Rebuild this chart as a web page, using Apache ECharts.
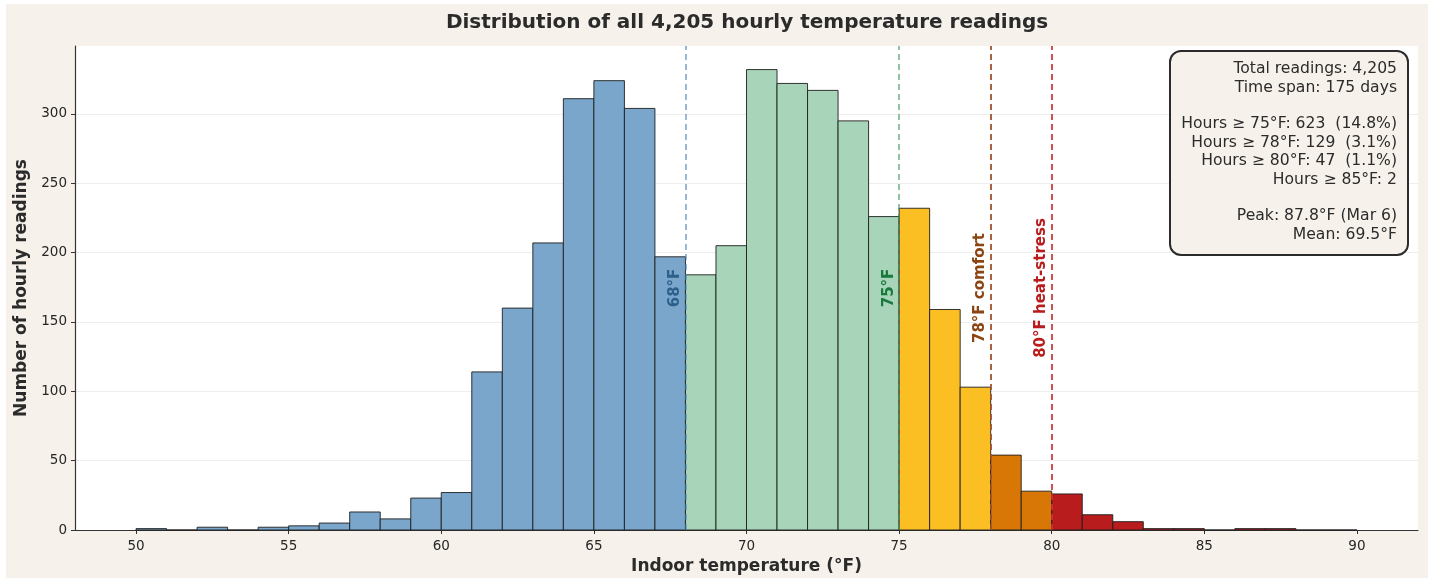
<!DOCTYPE html>
<html>
<head>
<meta charset="utf-8">
<title>Indoor temperature histogram</title>
<script src="https://cdn.jsdelivr.net/npm/echarts@6/dist/echarts.min.js"></script>
<style>
  html, body { margin: 0; padding: 0; background: #ffffff; }
  #chart { position: absolute; left: 6px; top: 4px; width: 1422px; height: 574px; }
</style>
</head>
<body>
<div id="chart"></div>
<script>
// 1°F bins, left edges
var binStarts = [50, 51, 52, 53, 54, 55, 56, 57, 58, 59,
                 60, 61, 62, 63, 64, 65, 66, 67, 68, 69,
                 70, 71, 72, 73, 74, 75, 76, 77, 78, 79,
                 80, 81, 82, 83, 84, 85, 86, 87, 88, 89];
var counts = [1, 0, 2, 0, 2, 3, 5, 13, 8, 23,
              27, 114, 160, 207, 311, 324, 304, 197, 184, 205,
              332, 322, 317, 295, 226, 232, 159, 103, 54, 28,
              26, 11, 6, 1, 1, 0, 1, 1, 0, 0];
var xTicks = [50, 55, 60, 65, 70, 75, 80, 85, 90];
var yTicks = [0, 50, 100, 150, 200, 250, 300];
var thresholds = [68, 75, 78, 80];
var thresholdLabels = ['68°F', '75°F', '78°F comfort', '80°F heat-stress'];
var statsLines = [
  'Total readings: 4,205',
  'Time span: 175 days',
  '',
  'Hours ≥ 75°F: 623  (14.8%)',
  'Hours ≥ 78°F: 129  (3.1%)',
  'Hours ≥ 80°F: 47  (1.1%)',
  'Hours ≥ 85°F: 2',
  '',
  'Peak: 87.8°F (Mar 6)',
  'Mean: 69.5°F'
];

var FONT = '"DejaVu Sans", sans-serif';

// bin colour by temperature band
function binColor(x) {
  if (x < 68) return '#7aa6cc';
  if (x < 75) return '#a8d5b9';
  if (x < 78) return '#fbbf24';
  if (x < 80) return '#d97706';
  return '#b91c1c';
}

var lineStyles = [
  { color: 'rgba(70,130,180,0.75)', width: 1.5, labelColor: '#2c5f8a' },
  { color: 'rgba(60,150,95,0.75)', width: 1.5, labelColor: '#1a7a3e' },
  { color: 'rgba(160,82,45,0.9)', width: 2, labelColor: '#8b4513' },
  { color: 'rgba(200,50,50,0.85)', width: 2, labelColor: '#b91c1c' }
];

var chart = echarts.init(document.getElementById('chart'));

chart.setOption({
  backgroundColor: '#f6f2eb',
  animation: false,
  textStyle: { fontFamily: FONT },
  title: {
    text: 'Distribution of all 4,205 hourly temperature readings',
    left: 736,
    top: 4,
    textAlign: 'center',
    textStyle: { fontFamily: FONT, fontSize: 20, fontWeight: 'bold', color: '#2b2b2b' }
  },
  grid: {
    left: 69, right: 10, top: 42, bottom: 48,
    outerBoundsMode: 'none',
    show: true, backgroundColor: '#ffffff', borderWidth: 0
  },
  xAxis: {
    type: 'value',
    min: 48,
    max: 92,
    name: 'Indoor temperature (°F)',
    nameLocation: 'middle',
    nameGap: 27,
    nameTextStyle: { fontFamily: FONT, fontSize: 17, fontWeight: 'bold', color: '#2b2b2b' },
    axisLine: { lineStyle: { color: '#333', width: 1.2 } },
    axisTick: { show: true, length: 4, customValues: xTicks, lineStyle: { color: '#333' } },
    axisLabel: { customValues: xTicks, fontFamily: FONT, fontSize: 13.5, color: '#262626', margin: 9 },
    splitLine: { show: false }
  },
  yAxis: {
    type: 'value',
    min: 0,
    max: 349,
    interval: 50,
    name: 'Number of hourly readings',
    nameLocation: 'middle',
    nameGap: 38,
    nameTextStyle: { fontFamily: FONT, fontSize: 17, fontWeight: 'bold', color: '#2b2b2b' },
    axisLine: { show: true, lineStyle: { color: '#333', width: 1.2 } },
    axisTick: { show: true, length: 4, customValues: yTicks, lineStyle: { color: '#333' } },
    axisLabel: { customValues: yTicks, fontFamily: FONT, fontSize: 13.5, color: '#262626', margin: 8 },
    splitLine: { show: true, lineStyle: { color: '#eeeeee', width: 1 } }
  },
  series: [{
    type: 'custom',
    data: binStarts.map(function (b, i) { return [b, counts[i]]; }),
    encode: { x: 0, y: 1 },
    renderItem: function (params, api) {
      var x0 = api.value(0);
      var c = api.value(1);
      var p0 = api.coord([x0, 0]);
      var p1 = api.coord([x0 + 1, c]);
      return {
        type: 'rect',
        shape: { x: p0[0], y: p1[1], width: p1[0] - p0[0], height: p0[1] - p1[1] },
        style: { fill: binColor(x0), stroke: '#1e1e1e', lineWidth: 0.9 }
      };
    },
    markLine: {
      silent: true,
      symbol: 'none',
      data: thresholds.map(function (t, i) {
        var s = lineStyles[i];
        return {
          xAxis: t,
          lineStyle: { color: s.color, width: s.width, type: [6, 4] },
          label: {
            show: true,
            formatter: thresholdLabels[i],
            position: 'insideMiddleTop',
            distance: 3,
            color: s.labelColor,
            fontFamily: FONT,
            fontSize: 15,
            fontWeight: 'bold'
          }
        };
      })
    }
  }],
  graphic: [{
    type: 'group',
    right: 19,
    top: 46,
    z: 100,
    children: [{
      type: 'rect',
      z: 100,
      shape: { x: 0, y: 0, width: 238, height: 204, r: 11 },
      style: { fill: '#f6f2eb', stroke: '#2b2b2b', lineWidth: 2 }
    }, {
      type: 'text',
      z: 101,
      x: 227,
      y: 9,
      style: {
        text: statsLines.join('\n'),
        align: 'right',
        verticalAlign: 'top',
        lineHeight: 18.4,
        font: '15.6px ' + FONT,
        fill: '#2b2b2b'
      }
    }]
  }]
});
</script>
</body>
</html>
